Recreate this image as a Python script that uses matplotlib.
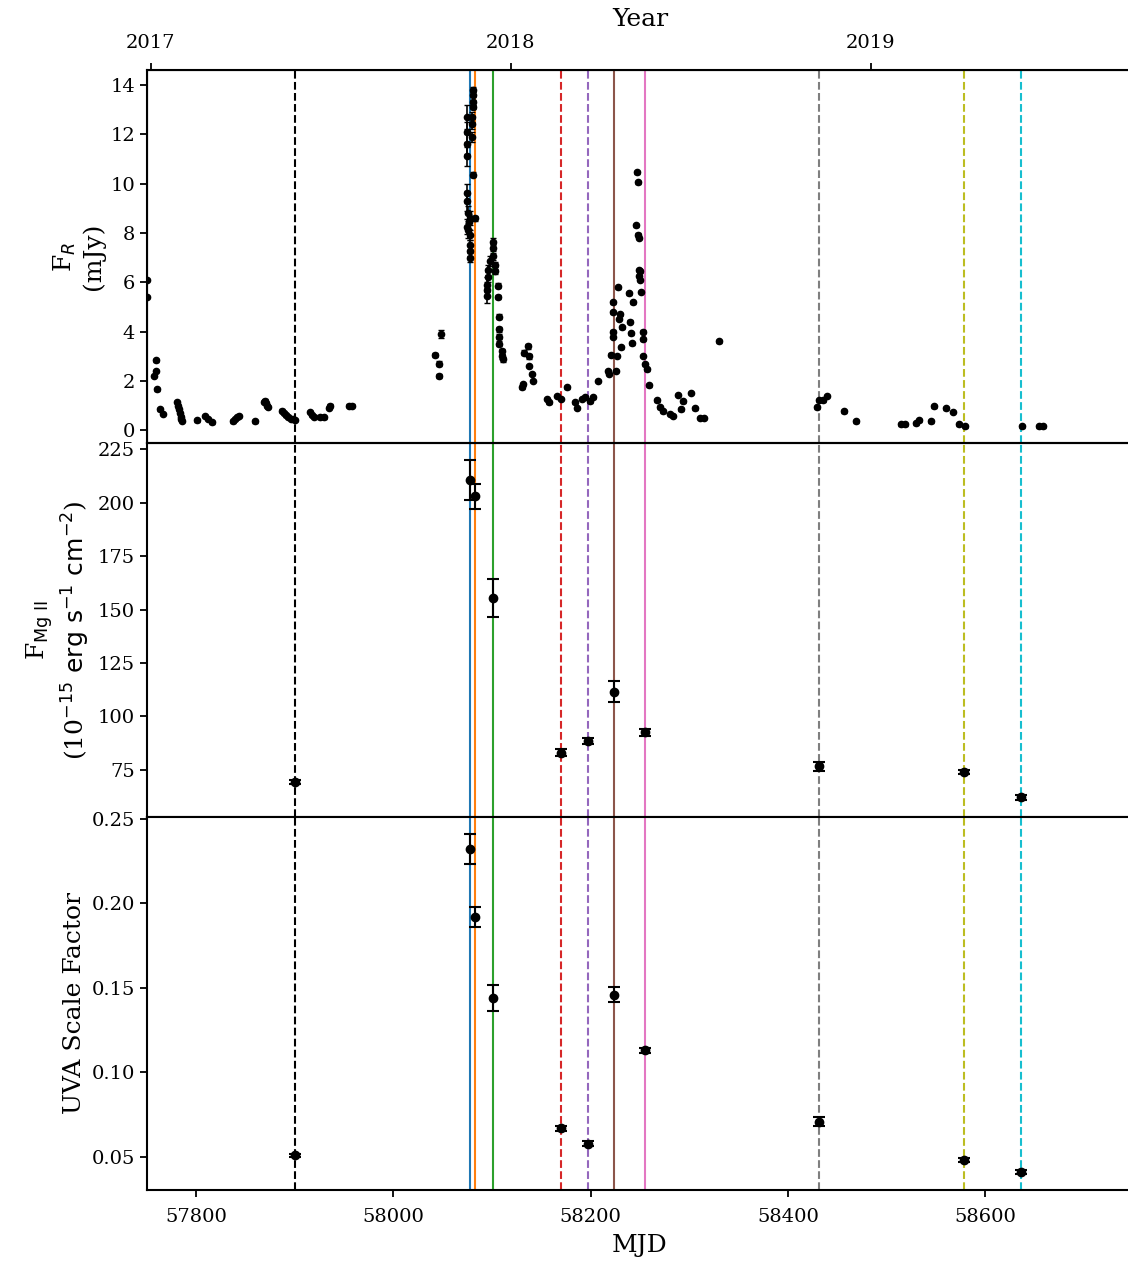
"""==============================================================
# libraries
=============================================================="""
import matplotlib.pyplot as plt

plt.rcParams["font.family"] = ["DejaVu Serif"]
plt.rcParams["mathtext.fontset"] = "dejavusans"

"""==============================================================
# data (read from the reference picture)
=============================================================="""
# R band light curve
r_mjd = [57750.3, 57750.5, 57757, 57759, 57759.5, 57760, 57763, 57766,
         57780, 57781, 57782, 57783, 57784, 57785, 57786,
         57801, 57809, 57812, 57816,
         57837, 57839, 57841, 57843, 57859.5,
         57869, 57870, 57871, 57872, 57873,
         57887, 57889, 57891, 57893, 57896, 57898, 57900,
         57915, 57917, 57919, 57925, 57930, 57935, 57936, 57955, 57958,
         58042, 58046, 58046.5, 58048,
         58074.2, 58074.2, 58074.2, 58074.2, 58074.2, 58074.2, 58074.5,
         58075.6, 58075.6, 58076.5, 58077.6, 58077.6, 58077.6, 58077.6,
         58077.6, 58079.3, 58079.3, 58079.3, 58080.3, 58080.3, 58080.3,
         58080.3, 58080.6, 58082.6,
         58094.5, 58094.5, 58094.5, 58095.8, 58095.8, 58097.9, 58100.6,
         58100.6, 58100.6, 58102.9, 58102.9, 58106, 58106, 58107, 58107,
         58107, 58107, 58110, 58110, 58111,
         58130, 58131, 58132, 58136, 58137, 58137, 58140.5, 58141.5,
         58155.7, 58157.7, 58166, 58170, 58176,
         58184, 58186, 58191, 58194, 58199, 58202, 58207,
         58217.5, 58218.5, 58220.5, 58222.6, 58222.6, 58222.6, 58222.6,
         58225.6, 58226.7, 58227.7, 58228.7, 58229.7, 58230.7, 58231.7,
         58238.8, 58239.8, 58240.9, 58241.9, 58242.9, 58246, 58247,
         58248, 58248.5, 58249, 58249, 58249, 58250, 58250, 58251,
         58253, 58253, 58253.5, 58255, 58257, 58259,
         58267, 58270, 58273, 58280, 58283.5, 58288.5, 58291.6, 58293.6,
         58301.7, 58305.8, 58310.8, 58315, 58330,
         58429.5, 58431.5, 58435.4, 58439.5, 58457, 58469,
         58514.7, 58518.8, 58530, 58533, 58545, 58548, 58560, 58567,
         58573.5, 58579.6, 58637.4, 58654.6, 58658.7]
r_flux = [6.1, 5.4, 2.2, 2.4, 2.83, 1.66, 0.85, 0.65,
          1.15, 1.0, 0.85, 0.7, 0.55, 0.45, 0.38,
          0.4, 0.57, 0.45, 0.32,
          0.36, 0.45, 0.52, 0.57, 0.36,
          1.15, 1.2, 1.1, 1.0, 0.95,
          0.8, 0.7, 0.6, 0.55, 0.47, 0.45, 0.42,
          0.75, 0.62, 0.55, 0.52, 0.52, 0.9, 1.0, 1.0, 1.0,
          3.05, 2.2, 2.7, 3.9,
          12.7, 12.1, 11.6, 11.1, 9.6, 9.3, 8.25,
          8.8, 8.1, 8.45, 7.9, 7.5, 7.25, 7.0,
          8.6, 12.7, 12.4, 11.9, 13.8, 13.6, 13.3,
          13.1, 10.35, 8.6,
          5.9, 5.7, 5.45, 6.5, 6.2, 6.85, 7.65,
          7.4, 7.05, 6.7, 6.45, 5.85, 5.4, 4.6, 4.1,
          3.8, 3.5, 3.2, 3.0, 2.87,
          1.74, 1.86, 3.15, 3.4, 3.0, 2.6, 2.27, 2.0,
          1.26, 1.13, 1.38, 1.26, 1.74,
          1.13, 0.9, 1.26, 1.34, 1.17, 1.33, 2.0,
          2.4, 2.27, 3.07, 3.77, 4.0, 4.78, 5.18,
          2.4, 3.0, 5.79, 4.5, 4.7, 3.36, 4.17,
          5.55, 4.4, 3.93, 3.52, 5.18, 8.3, 10.45,
          10.05, 7.93, 7.8, 6.5, 6.25, 6.44, 6.1, 5.6,
          4.0, 3.68, 3.0, 2.67, 2.47, 1.82,
          1.21, 0.93, 0.77, 0.65, 0.57, 1.42, 0.85, 1.17,
          1.5, 0.89, 0.49, 0.49, 3.6,
          0.93, 1.21, 1.21, 1.38, 0.77, 0.36,
          0.24, 0.24, 0.28, 0.4, 0.36, 0.97, 0.89, 0.73,
          0.24, 0.16, 0.16, 0.16, 0.16]
r_err = [0.05, 0.05, 0.05, 0.05, 0.05, 0.05, 0.05, 0.05,
         0.05, 0.05, 0.05, 0.05, 0.05, 0.05, 0.05,
         0.05, 0.05, 0.05, 0.05,
         0.05, 0.05, 0.05, 0.05, 0.05,
         0.05, 0.05, 0.05, 0.05, 0.05,
         0.05, 0.05, 0.05, 0.05, 0.05, 0.05, 0.05,
         0.05, 0.05, 0.05, 0.05, 0.05, 0.05, 0.05, 0.05, 0.05,
         0.1, 0.1, 0.1, 0.15,
         0.5, 0.4, 0.4, 0.4, 0.4, 0.4, 0.3,
         0.3, 0.3, 0.3, 0.2, 0.2, 0.2, 0.2,
         0.3, 0.2, 0.2, 0.2, 0.1, 0.1, 0.1,
         0.1, 0.1, 0.1,
         0.3, 0.3, 0.3, 0.2, 0.2, 0.2, 0.15,
         0.15, 0.15, 0.1, 0.1, 0.1, 0.1, 0.1, 0.1,
         0.1, 0.1, 0.1, 0.1, 0.1,
         0.05, 0.05, 0.1, 0.1, 0.1, 0.05, 0.05, 0.05,
         0.05, 0.05, 0.05, 0.05, 0.05,
         0.05, 0.05, 0.05, 0.05, 0.05, 0.05, 0.05,
         0.05, 0.05, 0.05, 0.05, 0.05, 0.05, 0.05,
         0.05, 0.05, 0.05, 0.05, 0.05, 0.05, 0.05,
         0.05, 0.05, 0.05, 0.05, 0.05, 0.05, 0.05,
         0.05, 0.05, 0.05, 0.05, 0.05, 0.05, 0.05, 0.05,
         0.05, 0.05, 0.05, 0.05, 0.05, 0.05,
         0.05, 0.05, 0.05, 0.05, 0.05, 0.05, 0.05, 0.05,
         0.05, 0.05, 0.05, 0.05, 0.05,
         0.05, 0.05, 0.05, 0.05, 0.05, 0.05,
         0.05, 0.05, 0.05, 0.05, 0.05, 0.05, 0.05, 0.05,
         0.05, 0.05, 0.05, 0.05, 0.05]

# spectroscopic epochs
spec_mjd = [57900, 58078, 58083, 58101, 58170, 58197, 58224, 58255,
            58432, 58579, 58636]
spec_color = ["black", "tab:blue", "tab:orange", "tab:green", "tab:red",
              "tab:purple", "tab:brown", "tab:pink", "tab:gray",
              "tab:olive", "tab:cyan"]
spec_style = ["--", "-", "-", "-", "--", "--", "-", "-", "--", "--", "--"]

# Mg II flux
mg_flux = [69.2, 210.5, 203.0, 155.5, 83.0, 88.5, 111.5, 92.5,
           76.6, 74.0, 62.0]
mg_err = [1.0, 9.3, 6.0, 8.8, 1.5, 1.5, 5.0, 1.5, 2.0, 1.0, 1.0]

# UVA scale factor
uva_scale = [0.051, 0.232, 0.192, 0.144, 0.067, 0.058, 0.146, 0.113,
             0.071, 0.048, 0.041]
uva_err = [0.001, 0.009, 0.006, 0.0075, 0.0015, 0.0015, 0.0045, 0.0015,
           0.0025, 0.0012, 0.0012]

# year ticks on the top axis
year_mjd = [57754, 58119, 58484]
year_labels = ["2017", "2018", "2019"]

"""==============================================================
# figure
=============================================================="""
fig, axes = plt.subplots(3, 1, sharex=True, figsize=(11.28, 12.66), dpi=100)
fig.subplots_adjust(left=0.1303, right=1.0044, top=0.9447, bottom=0.06,
                    hspace=0)
ax_r, ax_mg, ax_uva = axes

for ax in axes:
    for x, c, ls in zip(spec_mjd, spec_color, spec_style):
        ax.axvline(x, color=c, linestyle=ls, linewidth=1.5, zorder=1)
    for sp in ax.spines.values():
        sp.set_linewidth(1.5)
    ax.tick_params(labelsize=14, width=1.3, length=5)

# R band light curve
ax_r.errorbar(r_mjd, r_flux, yerr=r_err, fmt="o", color="black",
              markersize=4.5, capsize=2, elinewidth=1.2, zorder=3)
ax_r.set_ylim(-0.53, 14.6)
ax_r.set_yticks(range(0, 15, 2))
ax_r.set_ylabel("F$_R$\n(mJy)", fontsize=18)

# Mg II
ax_mg.errorbar(spec_mjd, mg_flux, yerr=mg_err, fmt="o", color="black",
               markersize=6, capsize=4, elinewidth=1.5, capthick=1.5,
               zorder=3)
ax_mg.set_ylim(53, 227.8)
ax_mg.set_yticks([75, 100, 125, 150, 175, 200, 225])
ax_mg.set_ylabel("F$_{\\rm Mg\\ II}$\n(10$^{-15}$ $\\rm erg\\ s^{-1}\\ cm^{-2}$)",
                 fontsize=18)

# UVA scale factor
ax_uva.errorbar(spec_mjd, uva_scale, yerr=uva_err, fmt="o", color="black",
                markersize=6, capsize=4, elinewidth=1.5, capthick=1.5,
                zorder=3)
ax_uva.set_ylim(0.0305, 0.2512)
ax_uva.set_yticks([0.05, 0.10, 0.15, 0.20, 0.25])
ax_uva.set_yticklabels(["0.05", "0.10", "0.15", "0.20", "0.25"])
ax_uva.set_ylabel("UVA Scale Factor", fontsize=18)

ax_uva.set_xlim(57750, 58750)
ax_uva.set_xticks([57800, 58000, 58200, 58400, 58600])
ax_uva.tick_params(axis="x", pad=8)
ax_uva.set_xlabel("MJD", fontsize=18, labelpad=6)
ax_r.tick_params(bottom=False)
ax_mg.tick_params(bottom=False)

# top axis in years
ax_year = ax_r.twiny()
ax_year.set_xlim(ax_r.get_xlim())
ax_year.set_xticks(year_mjd)
ax_year.set_xticklabels(year_labels)
ax_year.tick_params(labelsize=14, width=1.3, length=5, pad=8)
ax_year.set_xlabel("Year", fontsize=18, labelpad=6)

fig.savefig("out.png", dpi=100)
